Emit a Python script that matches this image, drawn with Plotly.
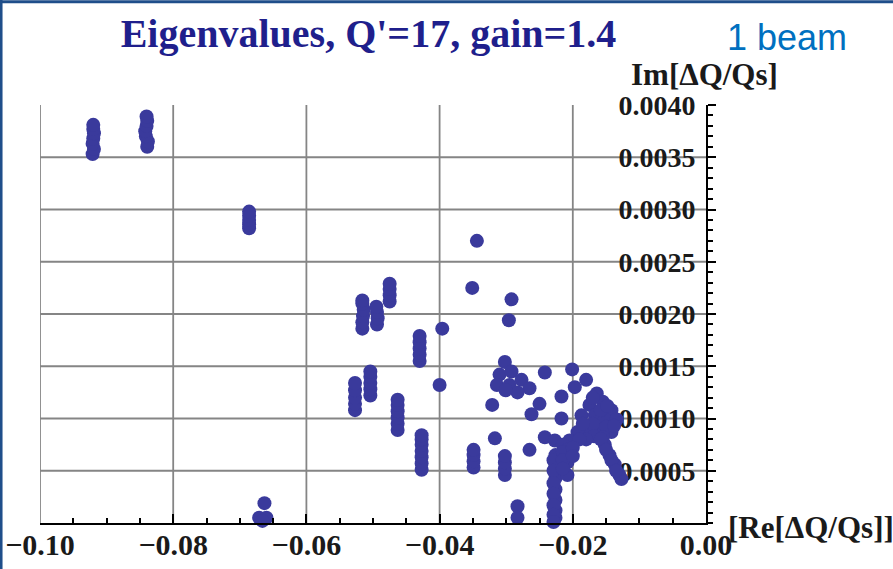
import plotly.graph_objects as go

# Eigenvalue spectrum: real part (tune shift) and imaginary part (growth rate), in units of Qs
re_vals = [
    -0.0921, -0.0919, -0.0921, -0.0920, -0.0919, -0.0920, -0.0920,
    -0.0839, -0.0838, -0.0841, -0.0842, -0.0840, -0.0839, -0.0840,
    -0.0686, -0.0686, -0.0686, -0.0686, -0.0686,
    -0.0663, -0.0671, -0.0660, -0.0666,
    -0.0516, -0.0516, -0.0515, -0.0514, -0.0516, -0.0516,
    -0.0494, -0.0493, -0.0494, -0.0495,
    -0.0475, -0.0475, -0.0475, -0.0475,
    -0.0430, -0.0430, -0.0430, -0.0430, -0.0430,
    -0.0396, -0.0351, -0.0344, -0.0292, -0.0296,
    -0.0527, -0.0527, -0.0527, -0.0527, -0.0527,
    -0.0504, -0.0504, -0.0504, -0.0504, -0.0504,
    -0.0400,
    -0.0463, -0.0463, -0.0463, -0.0463, -0.0463, -0.0463,
    -0.0427, -0.0427, -0.0427, -0.0427, -0.0427, -0.0427, -0.0427,
    -0.0349, -0.0349, -0.0349, -0.0349,
    -0.0302, -0.0302, -0.0302, -0.0302,
    -0.0317, -0.0321, -0.0265,
    -0.0302, -0.0310, -0.0292, -0.0314, -0.0295, -0.0277, -0.0265, -0.0283, -0.0301,
    -0.0242, -0.0201,
    -0.0180, -0.0197, -0.0217, -0.0250, -0.0262, -0.0217,
    -0.0164, -0.0175, -0.0155, -0.0142, -0.0187, -0.0167, -0.0152, -0.0134,
    -0.0178, -0.0160, -0.0142, -0.0193, -0.0205,
    -0.0170, -0.0158, -0.0148, -0.0170, -0.0185, -0.0150, -0.0138,
    -0.0168, -0.0180, -0.0155, -0.0190,
    -0.0152, -0.0145, -0.0137, -0.0130, -0.0127,
    -0.0158, -0.0150, -0.0142, -0.0135,
    -0.0242, -0.0227, -0.0215,
    -0.0226, -0.0226, -0.0226, -0.0226, -0.0226, -0.0226, -0.0226,
    -0.0229, -0.0229, -0.0229, -0.0229, -0.0229, -0.0229, -0.0229,
    -0.0208, -0.0208, -0.0208,
    -0.0215, -0.0215, -0.0215,
    -0.0200, -0.0200,
    -0.0283, -0.0283,
]
im_vals = [
    0.00353, 0.00358, 0.00363, 0.00368, 0.00373, 0.00377, 0.00381,
    0.00360, 0.00365, 0.00370, 0.00375, 0.00380, 0.00385, 0.00389,
    0.00282, 0.00286, 0.00290, 0.00294, 0.00298,
    0.00019, 0.00005, 0.00005, 0.00002,
    0.00186, 0.00192, 0.00198, 0.00204, 0.00210, 0.00213,
    0.00190, 0.00196, 0.00202, 0.00207,
    0.00212, 0.00218, 0.00224, 0.00229,
    0.00155, 0.00161, 0.00167, 0.00173, 0.00179,
    0.00186, 0.00225, 0.00270, 0.00214, 0.00194,
    0.00108, 0.00114, 0.00120, 0.00127, 0.00134,
    0.00122, 0.00128, 0.00134, 0.00140, 0.00145,
    0.00132,
    0.00089, 0.00095, 0.00101, 0.00107, 0.00113, 0.00118,
    0.00051, 0.00057, 0.00063, 0.00069, 0.00075, 0.00080, 0.00084,
    0.00053, 0.00059, 0.00065, 0.00070,
    0.00046, 0.00052, 0.00058, 0.00064,
    0.00081, 0.00113, 0.00070,
    0.00154, 0.00142, 0.00145, 0.00132, 0.00132, 0.00137, 0.00129, 0.00125, 0.00127,
    0.00144, 0.00147,
    0.00137, 0.00130, 0.00121, 0.00114, 0.00104, 0.00100,
    0.00124, 0.00113, 0.00116, 0.00108, 0.00103, 0.00103, 0.00099, 0.00099,
    0.00091, 0.00089, 0.00087, 0.00087, 0.00079,
    0.00120, 0.00108, 0.00112, 0.00095, 0.00095, 0.00092, 0.00093,
    0.00083, 0.00080, 0.00082, 0.00080,
    0.00075, 0.00065, 0.00056, 0.00046, 0.00042,
    0.00080, 0.00070, 0.00060, 0.00050,
    0.00082, 0.00079, 0.00075,
    0.00065, 0.00054, 0.00043, 0.00032, 0.00022, 0.00012, 0.00005,
    0.00060, 0.00050, 0.00038, 0.00028, 0.00017, 0.00008, 0.00001,
    0.00070, 0.00058, 0.00046,
    0.00068, 0.00060, 0.00052,
    0.00072, 0.00064,
    0.00016, 0.00005,
]

x_ticks = [-0.10, -0.08, -0.06, -0.04, -0.02, 0.00]
x_tick_text = ["\u22120.10", "\u22120.08", "\u22120.06", "\u22120.04", "\u22120.02", "0.00"]
y_ticks = [0.0005, 0.0010, 0.0015, 0.0020, 0.0025, 0.0030, 0.0035, 0.0040]
y_tick_text = ["0.0005", "0.0010", "0.0015", "0.0020", "0.0025", "0.0030", "0.0035", "0.0040"]

x_range = [-0.10, 0.0]
y_range = [0.0, 0.0040]

serif = "Liberation Serif, Times New Roman, serif"
point_color = "#3a3a9c"
grid_color = "#858585"
label_color = "#1a1a1a"

fig = go.Figure()
fig.add_trace(go.Scatter(
    x=re_vals, y=im_vals, mode="markers",
    marker=dict(size=14, color=point_color, line=dict(width=0)),
    cliponaxis=False, hoverinfo="x+y", showlegend=False,
))

# grid: vertical lines at the major x ticks, horizontal lines below the top of the axis
shapes = []
for xv in x_ticks[:-1]:
    shapes.append(dict(type="line", xref="x", yref="y", x0=xv, x1=xv,
                       y0=y_range[0], y1=y_range[1], layer="below",
                       line=dict(color=grid_color, width=1.8)))
for yv in y_ticks[:-1]:
    shapes.append(dict(type="line", xref="x", yref="y", x0=x_range[0], x1=x_range[1],
                       y0=yv, y1=yv, layer="below",
                       line=dict(color=grid_color, width=1.8)))
# slide frame (top and left edges)
shapes.append(dict(type="line", xref="paper", yref="paper", x0=-0.07, x1=1.35,
                   y0=1.247, y1=1.247, line=dict(color="#1f4e8a", width=3)))
shapes.append(dict(type="line", xref="paper", yref="paper", x0=-0.0585, x1=-0.0585,
                   y0=1.26, y1=-0.12, line=dict(color="#1f4e8a", width=3)))

fig.update_layout(
    width=893, height=569,
    margin=dict(l=40, r=187, t=105, b=46, autoexpand=False),
    paper_bgcolor="white", plot_bgcolor="white",
    shapes=shapes,
    xaxis=dict(
        range=x_range, tickvals=x_ticks, ticktext=x_tick_text,
        showgrid=False, zeroline=False, automargin=False,
        showline=True, linecolor="black", linewidth=2,
        ticks="inside", ticklen=9, tickwidth=1.5, tickcolor="black",
        minor=dict(dtick=0.005, tick0=0, ticks="inside", ticklen=5,
                   tickwidth=1.5, tickcolor="black", showgrid=False),
        ticklabelstandoff=-6,
        tickfont=dict(family=serif, size=30, color=label_color, weight="bold"),
        fixedrange=True,
    ),
    yaxis=dict(
        range=y_range, tickvals=y_ticks, ticktext=y_tick_text,
        side="right", showgrid=False, zeroline=False, automargin=False,
        showline=True, linecolor="black", linewidth=2,
        ticks="outside", ticklen=8, tickwidth=1.5, tickcolor="black",
        minor=dict(dtick=0.0001, tick0=0, ticks="outside", ticklen=5,
                   tickwidth=1.5, tickcolor="black", showgrid=False),
        ticklabelposition="inside", ticklabeloverflow="allow", ticklabelstandoff=13,
        tickfont=dict(family=serif, size=28, color=label_color, weight="bold"),
        layer="below traces",
        fixedrange=True,
    ),
    title=dict(
        text="<b>Eigenvalues, Q'=17, gain=1.4</b>",
        x=368.5 / 893, xanchor="center", xref="container",
        y=1 - 33 / 569, yanchor="middle", yref="container",
        font=dict(family=serif, size=40, color="#1f1f8c"),
    ),
    annotations=[
        dict(text="1 beam", xref="paper", yref="paper",
             x=(787 - 40) / 666, y=(523 - 37) / 418,
             xanchor="center", yanchor="middle", showarrow=False,
             font=dict(family="Liberation Sans, Arial, sans-serif", size=36, color="#0070c0")),
        dict(text="<b>Im[\u0394Q/Qs]</b>", xref="paper", yref="paper",
             x=(704 - 40) / 666, y=(523 - 75) / 418,
             xanchor="center", yanchor="middle", showarrow=False,
             font=dict(family=serif, size=31, color=label_color)),
        dict(text="<b>[Re[\u0394Q/Qs]]</b>", xref="paper", yref="paper",
             x=(726 - 40) / 666, y=(523 - 527) / 418,
             xanchor="left", yanchor="middle", showarrow=False,
             font=dict(family=serif, size=31, color=label_color)),
    ],
)

fig.write_html("out.html")
